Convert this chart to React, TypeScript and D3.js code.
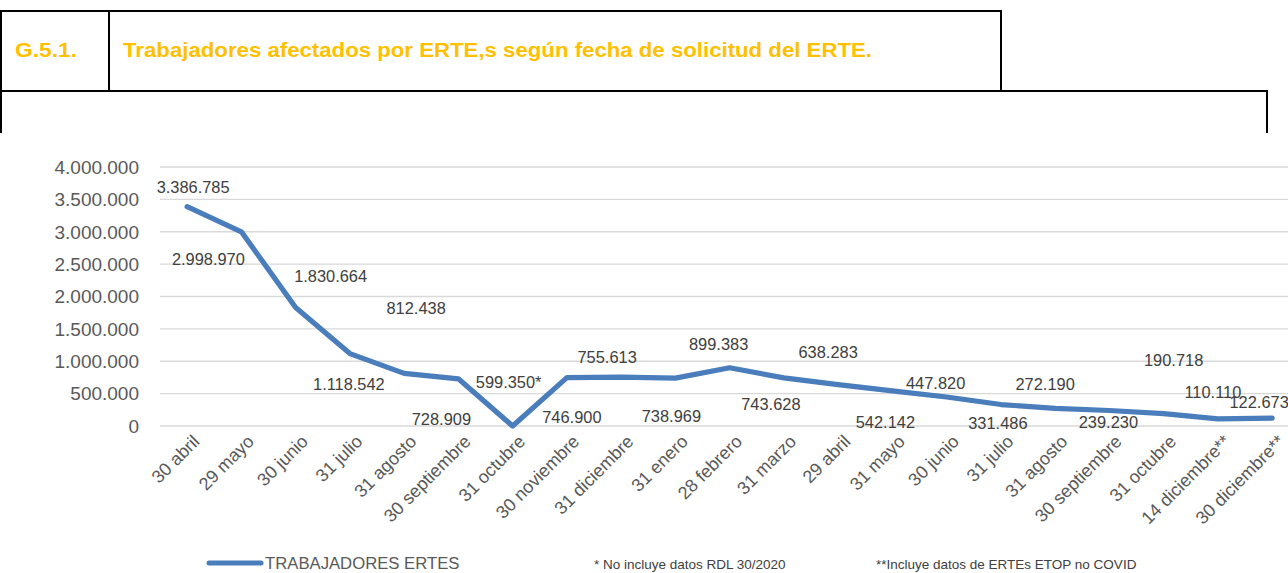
import React from "react";
import * as d3 from "d3";

const CATEGORIES = [
  "30 abril", "29 mayo", "30 junio", "31 julio", "31 agosto", "30 septiembre",
  "31 octubre", "30 noviembre", "31 diciembre", "31 enero", "28 febrero",
  "31 marzo", "29 abril", "31 mayo", "30 junio", "31 julio", "31 agosto",
  "30 septiembre", "31 octubre", "14 diciembre**", "30 diciembre**",
];

const VALUES = [
  3386785, 2998970, 1830664, 1118542, 812438, 728909, 0, 746900, 755613,
  738969, 899383, 743628, 638283, 542142, 447820, 331486, 272190, 239230,
  190718, 110110, 122673,
];

const DATA_LABELS = [
  "3.386.785", "2.998.970", "1.830.664", "1.118.542", "812.438", "728.909",
  "599.350*", "746.900", "755.613", "738.969", "899.383", "743.628",
  "638.283", "542.142", "447.820", "331.486", "272.190", "239.230",
  "190.718", "110.110", "122.673",
];

const Y_TICKS = [0, 500000, 1000000, 1500000, 2000000, 2500000, 3000000, 3500000, 4000000];

const SERIES_NAME = "TRABAJADORES ERTES";
const TITLE_CODE = "G.5.1.";
const TITLE = "Trabajadores afectados por ERTE,s según fecha de solicitud del ERTE.";
const NOTE_1 = "* No incluye datos RDL 30/2020";
const NOTE_2 = "**Incluye datos de ERTEs ETOP no COVID";

// presentation: manual data-label offsets (px) relative to each point
const LABEL_OFFSETS: [number, number][] = [
  [6, -20], [-33, 27], [35, -31], [-1, 31], [12, -65], [-17, 40], [-4, -44],
  [5, 39], [-14, -20], [-4, 38], [-11, -24], [-13, 26], [-10, -33], [-7, 31],
  [-11, -14], [-3, 19], [-10, -24], [-1, 12], [10, -54], [-5, -27], [-13, -16],
];

const W = 1288;
const H = 573;
const LINE_COLOR = "#4a7dbb";
const FONT = "'Liberation Sans', Arial, sans-serif";

const locale = d3.formatLocale({ decimal: ",", thousands: ".", grouping: [3], currency: ["", "€"] });
const fmt = locale.format(",d");

export default function App() {
  const x = d3.scaleBand<string>().domain(CATEGORIES.map((_, i) => String(i))).range([160, 1299.25]);
  const y = d3.scaleLinear().domain([0, 4000000]).range([426, 167]);
  const cx = (i: number) => (x(String(i)) as number) + x.bandwidth() / 2;

  const line = d3
    .line<number>()
    .x((_, i) => cx(i))
    .y((d) => y(d));

  return (
    <svg
      width={W}
      height={H}
      style={{ position: "absolute", left: 0, top: 0, background: "#fff" }}
      fontFamily={FONT}
    >
      <rect x={0} y={0} width={W} height={H} fill="#fff" />
      {/* title box */}
      <g stroke="#000" strokeWidth={2} fill="none">
        <rect x={1} y={11} width={1000} height={80} />
        <line x1={109} y1={11} x2={109} y2={91} />
        <polyline points="1,91 1,133" />
        <polyline points="1,91 1267,91 1267,133" />
      </g>
      <text x={15} y={57} fill="#FFC000" fontWeight="bold" fontSize={20.5} textLength={62} lengthAdjust="spacingAndGlyphs">
        {TITLE_CODE}
      </text>
      <text x={123} y={57} fill="#FFC000" fontWeight="bold" fontSize={20} textLength={749} lengthAdjust="spacingAndGlyphs">
        {TITLE}
      </text>

      {/* gridlines */}
      {Y_TICKS.map((t) => (
        <line key={"g" + t} x1={160} x2={W} y1={y(t)} y2={y(t)} stroke="#d9d9d9" strokeWidth={1.3} />
      ))}
      {/* y tick labels */}
      {Y_TICKS.map((t) => (
        <text key={"t" + t} x={139} y={y(t)} dy="0.36em" textAnchor="end" fontSize={19} fill="#595959">
          {fmt(t)}
        </text>
      ))}

      {/* line */}
      <path d={line(VALUES) || ""} fill="none" stroke={LINE_COLOR} strokeWidth={5.2} strokeLinejoin="round" strokeLinecap="round" />

      {/* data labels */}
      {VALUES.map((v, i) => (
        <text
          key={"l" + i}
          x={cx(i) + LABEL_OFFSETS[i][0]}
          y={y(v) + LABEL_OFFSETS[i][1]}
          dy="0.36em"
          textAnchor="middle"
          fontSize={16.4}
          fill="#404040"
        >
          {DATA_LABELS[i]}
        </text>
      ))}

      {/* x labels */}
      {CATEGORIES.map((c, i) => (
        <text
          key={"x" + i}
          transform={`translate(${cx(i) + 9},${438}) rotate(-45)`}
          textAnchor="end"
          dy="0.36em"
          fontSize={18}
          fill="#595959"
        >
          {c}
        </text>
      ))}

      {/* legend */}
      <line x1={209} x2={261} y1={563} y2={563} stroke={LINE_COLOR} strokeWidth={5} strokeLinecap="round" />
      <text x={265} y={563} dy="0.36em" fontSize={16.7} fill="#595959">
        {SERIES_NAME}
      </text>
      <text x={594} y={564} dy="0.36em" fontSize={13.5} fill="#404040">
        {NOTE_1}
      </text>
      <text x={876} y={564} dy="0.36em" fontSize={13.5} fill="#404040">
        {NOTE_2}
      </text>
    </svg>
  );
}
